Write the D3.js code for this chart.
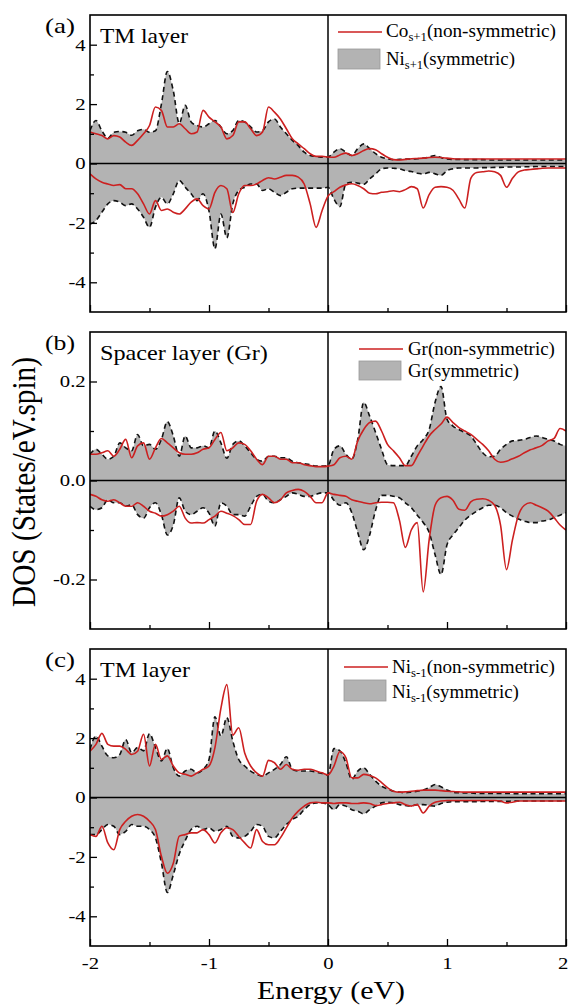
<!DOCTYPE html>
<html>
<head>
<meta charset="utf-8">
<script src="https://cdn.jsdelivr.net/npm/d3@7"></script>
<style>
  body { margin: 0; background: #fff; }
  svg { display: block; }
  text { font-family: "Liberation Serif", "Times New Roman", serif; fill: #000; }
</style>
</head>
<body>
<div id="chart"></div>
<script>
// --- Data (DOS vs energy) ---
// energy grid: -2 .. 2 eV, step 0.05 (81 points), rows below hold 10 points each
const energy = d3.range(81).map(i => -2 + i * 0.05);

// (a) TM layer: Co_s+1 (non-symmetric) and Ni_s+1 (symmetric)
const aSymUp = [
  1.11, 1.45, 1.10, 0.85, 1.05, 1.08, 1.05, 0.95, 1.10, 1.15,
  1.05, 1.10, 2.00, 3.10, 2.45, 1.35, 1.96, 1.40, 1.28, 1.23,
  1.34, 1.45, 1.23, 1.00, 1.11, 1.45, 1.40, 1.23, 1.06, 1.11,
  1.40, 1.50, 1.23, 1.00, 0.78, 0.60, 0.38, 0.27, 0.24, 0.21,
  0.22, 0.38, 0.50, 0.38, 0.27, 0.50, 0.66, 0.50, 0.33, 0.21,
  0.16, 0.13, 0.14, 0.15, 0.15, 0.16, 0.18, 0.22, 0.27, 0.20,
  0.15, 0.14, 0.14, 0.13, 0.13, 0.13, 0.13, 0.12, 0.12, 0.12,
  0.12, 0.12, 0.12, 0.12, 0.12, 0.12, 0.12, 0.12, 0.12, 0.12,
  0.12
];
const aSymDn = [
  -2.04, -1.92, -1.64, -1.36, -1.25, -1.30, -1.42, -1.36, -1.53, -1.81,
  -2.15, -1.47, -1.14, -1.36, -1.02, -0.57, -0.80, -1.02, -1.25, -1.02,
  -1.60, -2.87, -1.70, -2.50, -1.36, -0.91, -0.80, -0.69, -0.69, -0.91,
  -0.85, -0.97, -1.08, -0.97, -0.85, -0.83, -0.83, -0.83, -0.83, -0.83,
  -0.80, -1.20, -1.45, -0.69, -0.63, -0.66, -0.70, -0.52, -0.35, -0.18,
  -0.15, -0.16, -0.18, -0.24, -0.27, -0.33, -0.35, -0.30, -0.35, -0.40,
  -0.24, -0.18, -0.15, -0.15, -0.15, -0.15, -0.14, -0.14, -0.13, -0.13,
  -0.12, -0.12, -0.12, -0.11, -0.11, -0.10, -0.10, -0.10, -0.10, -0.10,
  -0.10
];
const aNsUp = [
  1.06, 1.00, 0.94, 0.83, 0.94, 0.89, 0.72, 0.61, 0.78, 1.00,
  1.28, 1.90, 1.79, 1.23, 1.23, 1.34, 1.17, 1.00, 1.06, 1.79,
  1.56, 1.40, 1.23, 0.83, 0.94, 1.40, 1.40, 1.17, 0.94, 1.06,
  1.90, 1.73, 1.50, 1.17, 0.83, 0.66, 0.50, 0.33, 0.24, 0.24,
  0.22, 0.21, 0.29, 0.35, 0.27, 0.33, 0.44, 0.50, 0.46, 0.33,
  0.21, 0.13, 0.12, 0.14, 0.16, 0.17, 0.18, 0.20, 0.21, 0.20,
  0.18, 0.16, 0.15, 0.15, 0.15, 0.15, 0.15, 0.15, 0.15, 0.15,
  0.15, 0.15, 0.15, 0.15, 0.15, 0.15, 0.15, 0.15, 0.15, 0.15,
  0.15
];
const aNsDn = [
  -0.35, -0.52, -0.63, -0.69, -0.74, -0.71, -0.85, -0.85, -1.02, -1.36,
  -1.70, -1.25, -1.58, -1.53, -1.64, -1.70, -1.53, -1.30, -1.19, -1.42,
  -1.53, -0.97, -0.74, -0.85, -1.65, -1.02, -0.74, -0.74, -0.69, -0.57,
  -0.48, -0.52, -0.46, -0.40, -0.40, -0.46, -0.69, -1.36, -2.15, -1.59,
  -1.10, -0.95, -0.80, -0.72, -0.68, -0.74, -0.85, -1.00, -1.02, -0.97,
  -0.95, -0.92, -0.95, -0.88, -0.78, -0.85, -1.50, -1.05, -0.80, -0.78,
  -0.80, -0.90, -1.20, -1.50, -0.50, -0.30, -0.28, -0.25, -0.28, -0.40,
  -0.80, -0.50, -0.28, -0.22, -0.20, -0.18, -0.16, -0.15, -0.15, -0.15,
  -0.15
];

// (b) spacer layer (graphene)
const bSymUp = [
  0.053, 0.063, 0.053, 0.043, 0.049, 0.076, 0.066, 0.060, 0.093, 0.070,
  0.073, 0.063, 0.083, 0.119, 0.090, 0.049, 0.090, 0.066, 0.066, 0.070,
  0.066, 0.100, 0.076, 0.045, 0.073, 0.080, 0.070, 0.056, 0.043, 0.039,
  0.049, 0.049, 0.046, 0.046, 0.039, 0.036, 0.034, 0.032, 0.029, 0.029,
  0.030, 0.063, 0.070, 0.053, 0.043, 0.083, 0.158, 0.130, 0.097, 0.063,
  0.032, 0.030, 0.030, 0.030, 0.049, 0.070, 0.083, 0.103, 0.158, 0.190,
  0.124, 0.110, 0.103, 0.097, 0.090, 0.073, 0.056, 0.048, 0.049, 0.063,
  0.073, 0.080, 0.081, 0.083, 0.087, 0.090, 0.087, 0.083, 0.080, 0.073,
  0.070
];
const bSymDn = [
  -0.052, -0.059, -0.055, -0.039, -0.045, -0.045, -0.052, -0.049, -0.069, -0.076,
  -0.055, -0.045, -0.069, -0.110, -0.090, -0.035, -0.062, -0.069, -0.062, -0.055,
  -0.066, -0.092, -0.045, -0.052, -0.069, -0.069, -0.072, -0.052, -0.032, -0.028,
  -0.042, -0.045, -0.039, -0.032, -0.025, -0.028, -0.032, -0.032, -0.028, -0.025,
  -0.025, -0.040, -0.050, -0.045, -0.065, -0.105, -0.140, -0.110, -0.060, -0.030,
  -0.030, -0.032, -0.035, -0.045, -0.055, -0.070, -0.085, -0.105, -0.150, -0.190,
  -0.130, -0.110, -0.095, -0.080, -0.070, -0.062, -0.055, -0.050, -0.050, -0.055,
  -0.065, -0.072, -0.078, -0.082, -0.085, -0.085, -0.082, -0.080, -0.075, -0.070,
  -0.065
];
const bNsUp = [
  0.053, 0.053, 0.056, 0.060, 0.049, 0.063, 0.083, 0.046, 0.070, 0.076,
  0.043, 0.066, 0.085, 0.076, 0.066, 0.056, 0.053, 0.053, 0.056, 0.063,
  0.066, 0.083, 0.097, 0.060, 0.066, 0.076, 0.073, 0.060, 0.043, 0.032,
  0.049, 0.049, 0.043, 0.043, 0.036, 0.036, 0.032, 0.030, 0.028, 0.028,
  0.029, 0.032, 0.046, 0.049, 0.043, 0.080, 0.103, 0.117, 0.120, 0.100,
  0.073, 0.060, 0.046, 0.030, 0.030, 0.049, 0.070, 0.090, 0.103, 0.114,
  0.128, 0.117, 0.107, 0.100, 0.093, 0.083, 0.073, 0.060, 0.043, 0.037,
  0.039, 0.044, 0.049, 0.056, 0.062, 0.066, 0.071, 0.080, 0.085, 0.105,
  0.100
];
const bNsDn = [
  -0.028, -0.032, -0.039, -0.042, -0.039, -0.045, -0.052, -0.052, -0.045, -0.052,
  -0.062, -0.066, -0.072, -0.069, -0.062, -0.052, -0.076, -0.086, -0.085, -0.086,
  -0.079, -0.072, -0.062, -0.066, -0.071, -0.079, -0.089, -0.089, -0.042, -0.028,
  -0.035, -0.045, -0.039, -0.025, -0.020, -0.018, -0.022, -0.032, -0.045, -0.045,
  -0.025, -0.028, -0.030, -0.032, -0.039, -0.042, -0.045, -0.047, -0.045, -0.044,
  -0.044, -0.045, -0.080, -0.135, -0.100, -0.085, -0.225, -0.120, -0.050, -0.035,
  -0.032, -0.040, -0.058, -0.060, -0.043, -0.038, -0.037, -0.040, -0.050, -0.090,
  -0.180, -0.120, -0.070, -0.050, -0.045, -0.050, -0.055, -0.062, -0.075, -0.090,
  -0.100
];

// (c) TM layer: Ni_s-1
const cSymUp = [
  1.62, 2.07, 1.73, 1.40, 1.34, 1.45, 1.95, 1.51, 1.68, 1.57,
  2.15, 1.68, 1.23, 1.65, 1.00, 0.72, 0.89, 0.95, 0.83, 0.95,
  1.28, 2.72, 2.07, 2.69, 1.90, 1.28, 1.06, 0.89, 0.78, 0.72,
  0.83, 0.95, 1.11, 1.37, 0.95, 0.89, 0.89, 0.89, 0.86, 0.81,
  0.76, 1.65, 1.57, 1.17, 0.61, 0.89, 1.00, 0.78, 0.55, 0.38,
  0.29, 0.21, 0.18, 0.16, 0.18, 0.21, 0.25, 0.33, 0.44, 0.36,
  0.25, 0.18, 0.16, 0.15, 0.15, 0.14, 0.14, 0.14, 0.14, 0.14,
  0.14, 0.13, 0.13, 0.13, 0.13, 0.13, 0.13, 0.13, 0.13, 0.13,
  0.13
];
const cSymDn = [
  -1.25, -1.25, -1.08, -0.91, -0.97, -1.25, -1.14, -0.91, -0.97, -0.97,
  -1.08, -1.36, -2.20, -3.20, -2.60, -1.90, -1.45, -1.08, -0.97, -1.08,
  -1.02, -1.14, -1.08, -0.97, -1.31, -1.36, -1.31, -1.14, -0.91, -0.97,
  -1.31, -1.36, -1.14, -0.91, -0.74, -0.63, -0.41, -0.24, -0.18, -0.18,
  -0.24, -0.41, -0.24, -0.29, -0.41, -0.46, -0.55, -0.41, -0.29, -0.18,
  -0.16, -0.18, -0.24, -0.27, -0.29, -0.24, -0.24, -0.27, -0.29, -0.20,
  -0.16, -0.14, -0.14, -0.14, -0.14, -0.14, -0.13, -0.13, -0.13, -0.13,
  -0.13, -0.12, -0.12, -0.12, -0.12, -0.12, -0.12, -0.12, -0.12, -0.12,
  -0.12
];
const cNsUp = [
  1.56, 1.79, 2.16, 1.79, 1.73, 1.73, 1.62, 1.45, 1.56, 2.13,
  1.06, 1.79, 1.28, 1.40, 1.06, 0.83, 0.78, 0.72, 0.83, 0.95,
  1.06, 1.68, 3.00, 3.80, 2.10, 2.35, 1.50, 1.06, 0.83, 0.72,
  1.25, 1.17, 0.95, 1.11, 0.95, 0.92, 0.95, 0.95, 0.89, 0.83,
  0.76, 1.06, 1.55, 1.34, 0.66, 0.66, 0.78, 0.74, 0.66, 0.50,
  0.33, 0.21, 0.18, 0.19, 0.21, 0.23, 0.25, 0.25, 0.25, 0.23,
  0.21, 0.20, 0.19, 0.18, 0.18, 0.18, 0.18, 0.18, 0.18, 0.18,
  0.18, 0.18, 0.18, 0.18, 0.18, 0.18, 0.18, 0.18, 0.18, 0.18,
  0.18
];
const cNsDn = [
  -1.25, -1.31, -0.97, -1.53, -1.76, -1.08, -0.80, -0.63, -0.57, -0.63,
  -0.80, -1.08, -1.98, -2.55, -2.21, -1.30, -1.25, -1.19, -1.19, -1.08,
  -1.25, -1.53, -1.19, -1.02, -1.08, -1.31, -1.53, -1.70, -1.08, -1.48,
  -1.59, -1.59, -1.36, -1.02, -0.69, -0.46, -0.29, -0.18, -0.16, -0.18,
  -0.18, -0.20, -0.18, -0.18, -0.20, -0.20, -0.18, -0.20, -0.27, -0.24,
  -0.20, -0.18, -0.16, -0.24, -0.29, -0.24, -0.52, -0.29, -0.16, -0.12,
  -0.10, -0.10, -0.10, -0.10, -0.10, -0.10, -0.10, -0.10, -0.10, -0.12,
  -0.18, -0.16, -0.12, -0.12, -0.12, -0.12, -0.12, -0.12, -0.12, -0.12,
  -0.12
];

const xTickLabels = [-2, -1, 0, 1, 2];
const xMinorTicks = [-1.5, -0.5, 0.5, 1.5];

// --- Layout ---
const W = 568, H = 1006;
const plotLeft = 90, plotRight = 566, panelH = 297;
const GREY = '#b3b3b3';
const RED = '#cc2020';

const panels = [
  {
    top: 15, tag: '(a)', title: 'TM layer', titleW: 88,
    domain: [-5, 5], major: [-4, -2, 0, 2, 4], minor: [-3, -1, 1, 3], fmt: d => String(d),
    symUp: aSymUp, symDn: aSymDn, nsUp: aNsUp, nsDn: aNsDn,
    legend: { x: 338, lineY: 17, boxY: 34, boxH: 20, textX: 386, base1: 22, base2: 50, w1: 170, w2: 129,
      item1: ['Co', 's+1', '(non-symmetric)'], item2: ['Ni', 's+1', '(symmetric)'] }
  },
  {
    top: 332, tag: '(b)', title: 'Spacer layer (Gr)', titleW: 168,
    domain: [-0.3, 0.3], major: [-0.2, 0, 0.2], minor: [-0.1, 0.1], fmt: d => d.toFixed(1),
    symUp: bSymUp, symDn: bSymDn, nsUp: bNsUp, nsDn: bNsDn,
    legend: { x: 359, lineY: 17, boxY: 29, boxH: 19, textX: 408, base1: 23, base2: 45, w1: 147, w2: 111,
      item1: ['Gr', '', '(non-symmetric)'], item2: ['Gr', '', '(symmetric)'] }
  },
  {
    top: 649, tag: '(c)', title: 'TM layer', titleW: 90,
    domain: [-5, 5], major: [-4, -2, 0, 2, 4], minor: [-3, -1, 1, 3], fmt: d => String(d),
    symUp: cSymUp, symDn: cSymDn, nsUp: cNsUp, nsDn: cNsDn,
    legend: { x: 344, lineY: 18, boxY: 31, boxH: 21, textX: 392, base1: 24, base2: 49, w1: 163, w2: 127,
      item1: ['Ni', 's-1', '(non-symmetric)'], item2: ['Ni', 's-1', '(symmetric)'] }
  }
];

const svg = d3.select('#chart').append('svg')
  .attr('width', W)
  .attr('height', H);

const x = d3.scaleLinear().domain([-2, 2]).range([plotLeft, plotRight]);

// stretch a text element horizontally so it spans the given width
function fitWidth(sel, width) {
  const w = sel.node().getComputedTextLength();
  const tx = +sel.attr('x'), ty = +sel.attr('y');
  sel.attr('transform', `translate(${tx},${ty}) scale(${width / w},1) translate(${-tx},${-ty})`);
}

function styleAxis(g, fontSize) {
  g.attr('font-family', '"Liberation Serif", "Times New Roman", serif')
    .attr('font-size', fontSize);
  g.select('.domain').remove();
  g.selectAll('.tick line').attr('stroke', '#000').attr('stroke-width', 1.3);
  g.selectAll('.tick text').attr('fill', '#000').attr('transform', 'scale(1.22,1)');
}

panels.forEach((p, i) => {
  const top = p.top, bottom = top + panelH;
  const y = d3.scaleLinear().domain(p.domain).range([bottom, top]);
  const g = svg.append('g').attr('class', 'panel');

  const clipId = 'clip-' + i;
  svg.append('clipPath').attr('id', clipId)
    .append('rect')
    .attr('x', plotLeft).attr('y', top)
    .attr('width', plotRight - plotLeft).attr('height', panelH);

  const plot = g.append('g').attr('clip-path', `url(#${clipId})`);
  const pts = vals => vals.map((v, j) => [energy[j], v]);

  const area = d3.area()
    .x(d => x(d[0]))
    .y0(y(0))
    .y1(d => y(d[1]))
    .curve(d3.curveMonotoneX);
  const line = d3.line()
    .x(d => x(d[0]))
    .y(d => y(d[1]))
    .curve(d3.curveMonotoneX);

  // symmetric case: grey fill
  [p.symUp, p.symDn].forEach(s => {
    plot.append('path').attr('d', area(pts(s))).attr('fill', GREY);
  });

  // zero lines
  plot.append('line')
    .attr('x1', plotLeft).attr('x2', plotRight)
    .attr('y1', y(0)).attr('y2', y(0))
    .attr('stroke', '#000').attr('stroke-width', 1.5);
  plot.append('line')
    .attr('x1', x(0)).attr('x2', x(0))
    .attr('y1', top).attr('y2', bottom)
    .attr('stroke', '#000').attr('stroke-width', 1.5);

  // dashed outline of the symmetric DOS
  [p.symUp, p.symDn].forEach(s => {
    plot.append('path').attr('d', line(pts(s)))
      .attr('fill', 'none').attr('stroke', '#111')
      .attr('stroke-width', 1.6).attr('stroke-dasharray', '5,3.5');
  });

  // non-symmetric case: red line
  [p.nsUp, p.nsDn].forEach(s => {
    plot.append('path').attr('d', line(pts(s)))
      .attr('fill', 'none').attr('stroke', RED)
      .attr('stroke-width', 1.6).attr('stroke-linejoin', 'round');
  });

  // y axis (major + minor, ticks pointing in)
  g.append('g')
    .attr('transform', `translate(${plotLeft},0)`)
    .call(d3.axisLeft(y).tickValues(p.major).tickSize(-7).tickPadding(3.5).tickFormat(p.fmt))
    .call(a => styleAxis(a, 17));
  g.append('g')
    .attr('transform', `translate(${plotLeft},0)`)
    .call(d3.axisLeft(y).tickValues(p.minor).tickSize(-4).tickFormat(''))
    .call(a => styleAxis(a, 17));

  // x axis ticks on the bottom edge; labels only for the last panel
  const last = i === panels.length - 1;
  const xAx = g.append('g')
    .attr('transform', `translate(0,${bottom})`)
    .call(d3.axisBottom(x).tickValues(xTickLabels).tickSize(-7).tickPadding(11)
      .tickFormat(last ? (d => String(d)) : ''))
    .call(a => styleAxis(a, 17));
  // keep the right-most label inside the page
  xAx.selectAll('.tick text').filter(d => d === 2)
    .attr('text-anchor', 'end').attr('x', 1.5);
  g.append('g')
    .attr('transform', `translate(0,${bottom})`)
    .call(d3.axisBottom(x).tickValues(xMinorTicks).tickSize(-4).tickFormat(''))
    .call(a => styleAxis(a, 17));

  // frame
  g.append('rect')
    .attr('x', plotLeft).attr('y', top)
    .attr('width', plotRight - plotLeft).attr('height', panelH)
    .attr('fill', 'none').attr('stroke', '#000').attr('stroke-width', 1.6);

  // panel tag + title
  const tag = g.append('text')
    .attr('x', 45).attr('y', top + 18)
    .attr('font-size', 22)
    .text(p.tag);
  fitWidth(tag, 30);
  const title = g.append('text')
    .attr('x', 100).attr('y', top + 28)
    .attr('font-size', 22)
    .text(p.title);
  fitWidth(title, p.titleW);

  // legend
  const L = p.legend;
  g.append('line')
    .attr('x1', L.x).attr('x2', L.x + 44)
    .attr('y1', top + L.lineY).attr('y2', top + L.lineY)
    .attr('stroke', RED).attr('stroke-width', 1.6);
  g.append('rect')
    .attr('x', L.x).attr('y', top + L.boxY)
    .attr('width', 42).attr('height', L.boxH)
    .attr('fill', GREY).attr('stroke', '#999').attr('stroke-width', 0.8);

  [[L.item1, L.base1, L.w1], [L.item2, L.base2, L.w2]].forEach(([item, base, w]) => {
    const t = g.append('text')
      .attr('x', L.textX).attr('y', top + base)
      .attr('font-size', 18);
    t.append('tspan').text(item[0]);
    if (item[1]) {
      t.append('tspan').attr('font-size', 12).attr('dy', 4).text(item[1]);
      t.append('tspan').attr('dy', -4).text(item[2]);
    } else {
      t.append('tspan').text(item[2]);
    }
    fitWidth(t, w);
  });
});

// axis titles
const xTitle = svg.append('text')
  .attr('x', 331).attr('y', 999)
  .attr('text-anchor', 'middle')
  .attr('font-size', 25)
  .text('Energy (eV)');
fitWidth(xTitle, 148);

svg.append('text')
  .attr('transform', 'translate(35,482) scale(1.2,1) rotate(-90)')
  .attr('text-anchor', 'middle')
  .attr('font-size', 28)
  .attr('textLength', 250)
  .attr('lengthAdjust', 'spacingAndGlyphs')
  .text('DOS (States/eV.spin)');
</script>
</body>
</html>
